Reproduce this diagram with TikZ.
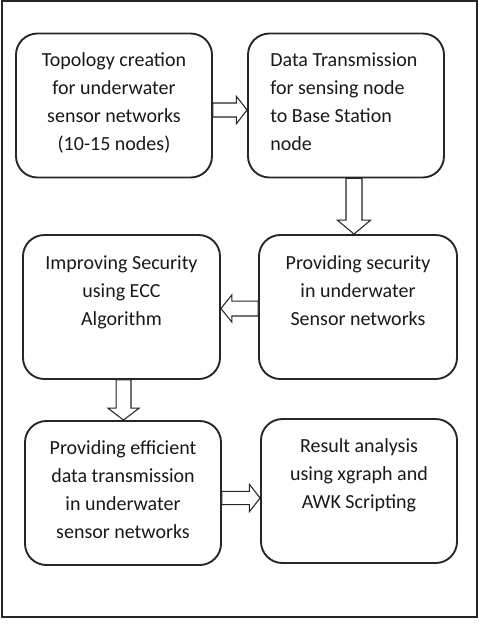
\documentclass[tikz,border=0pt]{standalone}
\usepackage{fontspec}
\setmainfont{Carlito}
\usetikzlibrary{calc}

\tikzset{
  stagebox/.style={draw=black!85, line width=1.4pt, rounded corners=16pt,
    minimum width=147pt, minimum height=108pt, inner sep=0pt},
  stagetext/.style={inner sep=0pt, font=\fontsize{15}{21}\selectfont, text=black!90},
  hollowarrow/.style={draw=black!85, line width=0.8pt, fill=white, line join=miter},
  outerframe/.style={draw=black!85, line width=1.2pt}
}

% hollow block arrow: #1 start, #2 tip, #3 half shaft width, #4 half head width, #5 head length
\newcommand\flowarrow[5]{%
  \coordinate (fa-h) at ($(#2)!#5!(#1)$);
  \draw[hollowarrow] ($(#1)!#3!90:(#2)$) -- ($(fa-h)!#3!-90:(#1)$)
    -- ($(fa-h)!#4!-90:(#1)$) -- (#2) -- ($(fa-h)!#4!90:(#1)$)
    -- ($(fa-h)!#3!90:(#1)$) -- ($(#1)!#3!-90:(#2)$) -- cycle;}

\begin{document}
\begin{tikzpicture}[x=0.75pt, y=-0.75pt]
  \useasboundingbox (0,0) rectangle (479,633);
  \fill[white] (0,0) rectangle (479,633);
  \draw[outerframe] (2,1) rectangle (477,617);

  % process stages
  \node[stagebox] (b1) at (114,105.5) {};
  \node[stagebox] (b2) at (346,105.5) {};
  \node[stagebox, minimum width=147.75pt] (b3) at (121.5,307) {};
  \node[stagebox, minimum width=148.5pt] (b4) at (358,307) {};
  \node[stagebox] (b5) at (123,493) {};
  \node[stagebox] (b6) at (359,491) {};

  % stage captions
  \node[stagetext, anchor=base] (t1) at ($(b1.north)+(0,34)$)
    {\parbox[t]{150pt}{\centering Topology creation\\for underwater\\sensor networks\\(10-15 nodes)}};
  \node[stagetext, anchor=base west] (t2) at ($(b2.north west)+(23,34)$)
    {\parbox[t]{140pt}{\raggedright Data Transmission\\for sensing node\\to Base Station\\node}};
  \node[stagetext, anchor=base] (t3) at ($(b3.north)+(0,35)$)
    {\parbox[t]{150pt}{\centering Improving Security\\using ECC\\Algorithm}};
  \node[stagetext, anchor=base] (t4) at ($(b4.north)+(0,35)$)
    {\parbox[t]{150pt}{\centering Providing security\\in underwater\\Sensor networks}};
  \node[stagetext, anchor=base] (t5) at ($(b5.north)+(0,34)$)
    {\parbox[t]{150pt}{\centering Providing efficient\\data transmission\\in underwater\\sensor networks}};
  \node[stagetext, anchor=base] (t6) at ($(b6.north)+(0,34)$)
    {\parbox[t]{150pt}{\centering Result analysis\\using xgraph and\\AWK Scripting}};

  % arrow end points on the box borders
  \coordinate (a1s) at ($(b1.east)+(0,4.5)$);
  \coordinate (a1e) at ($(b2.west)+(0,4.5)$);
  \coordinate (a2s) at ($(b2.south)+(8,0)$);
  \coordinate (a2e) at ($(b4.north)+(-4,0)$);
  \coordinate (a3s) at ($(b4.west)+(0,1.5)$);
  \coordinate (a3e) at ($(b3.east)+(0,1.5)$);
  \coordinate (a4s) at ($(b3.south)+(2,0)$);
  \coordinate (a4e) at ($(b5.north)+(0.5,0)$);
  \coordinate (a5s) at ($(b5.east)+(0,5)$);
  \coordinate (a5e) at ($(b6.west)+(0,7)$);

  \flowarrow{a1s}{a1e}{5.25pt}{10.25pt}{8pt}
  \flowarrow{a2s}{a2e}{6pt}{12.5pt}{10.5pt}
  \flowarrow{a3s}{a3e}{5.6pt}{10.25pt}{8.25pt}
  \flowarrow{a4s}{a4e}{5.6pt}{11.75pt}{9pt}
  \flowarrow{a5s}{a5e}{5pt}{10.25pt}{8pt}
\end{tikzpicture}
\end{document}
